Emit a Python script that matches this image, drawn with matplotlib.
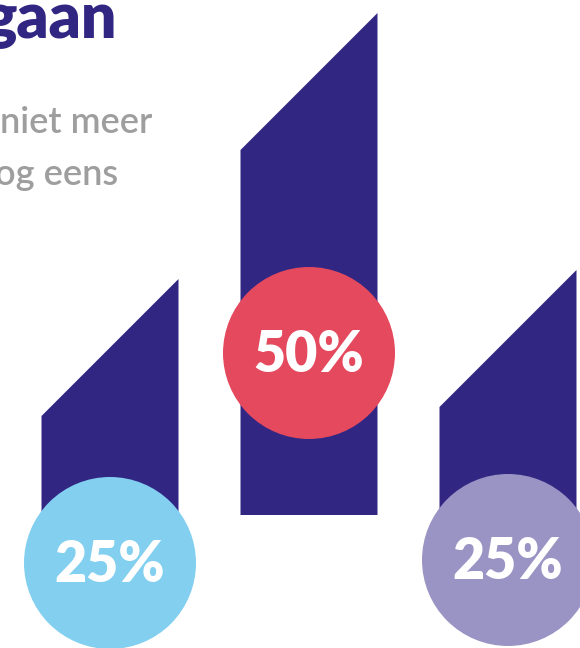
import matplotlib.pyplot as plt
from matplotlib.patches import Polygon, Circle
import numpy as np

# Data
labels = ['25%', '50%', '25%']
bar_tops = [236, 502, 245]          # height of the high (right) corner of each bar
badge_y = [-48, 162, -45]           # vertical centre of each percentage badge
badge_colors = ['#82CFF0', '#E4495D', '#9A94C5']
navy = '#312783'
grey = '#9E9E9E'

# Layout
spacing = 199
bar_w = 137
radius = 86
positions = np.arange(len(labels)) * spacing

fig = plt.figure(figsize=(5.8, 6.48), dpi=100)
ax = fig.add_axes([0, 0, 1, 1])
ax.set_xlim(-110, 470)
ax.set_ylim(-133, 515)
ax.set_aspect('equal')
ax.axis('off')

for x, top, cy, col, lab in zip(positions, bar_tops, badge_y, badge_colors, labels):
    left, right = x - bar_w / 2, x + bar_w / 2
    # bar with 45 degree cut top
    bar = Polygon([(left, 0), (right, 0), (right, top), (left, top - bar_w)],
                  closed=True, fc=navy, ec='none')
    ax.add_patch(bar)
    ax.add_patch(Circle((x, cy), radius, fc=col, ec='none', zorder=3))
    ax.text(x, cy - 19, lab, color='white', fontsize=40, fontweight='heavy',
            family='Lato', ha='center', va='baseline', zorder=4)

# heading text (cut off on the left in the source)
ax.text(7, 477, 'gaan', color=navy, fontsize=45, fontweight='heavy',
        family='Lato', ha='right', va='baseline')
ax.text(42, 382, 'niet meer', color=grey, fontsize=26, fontweight='semibold',
        family='Lato', ha='right', va='baseline')
ax.text(8, 330, 'og eens', color=grey, fontsize=26, fontweight='semibold',
        family='Lato', ha='right', va='baseline')

fig.savefig('out.png', dpi=100)
